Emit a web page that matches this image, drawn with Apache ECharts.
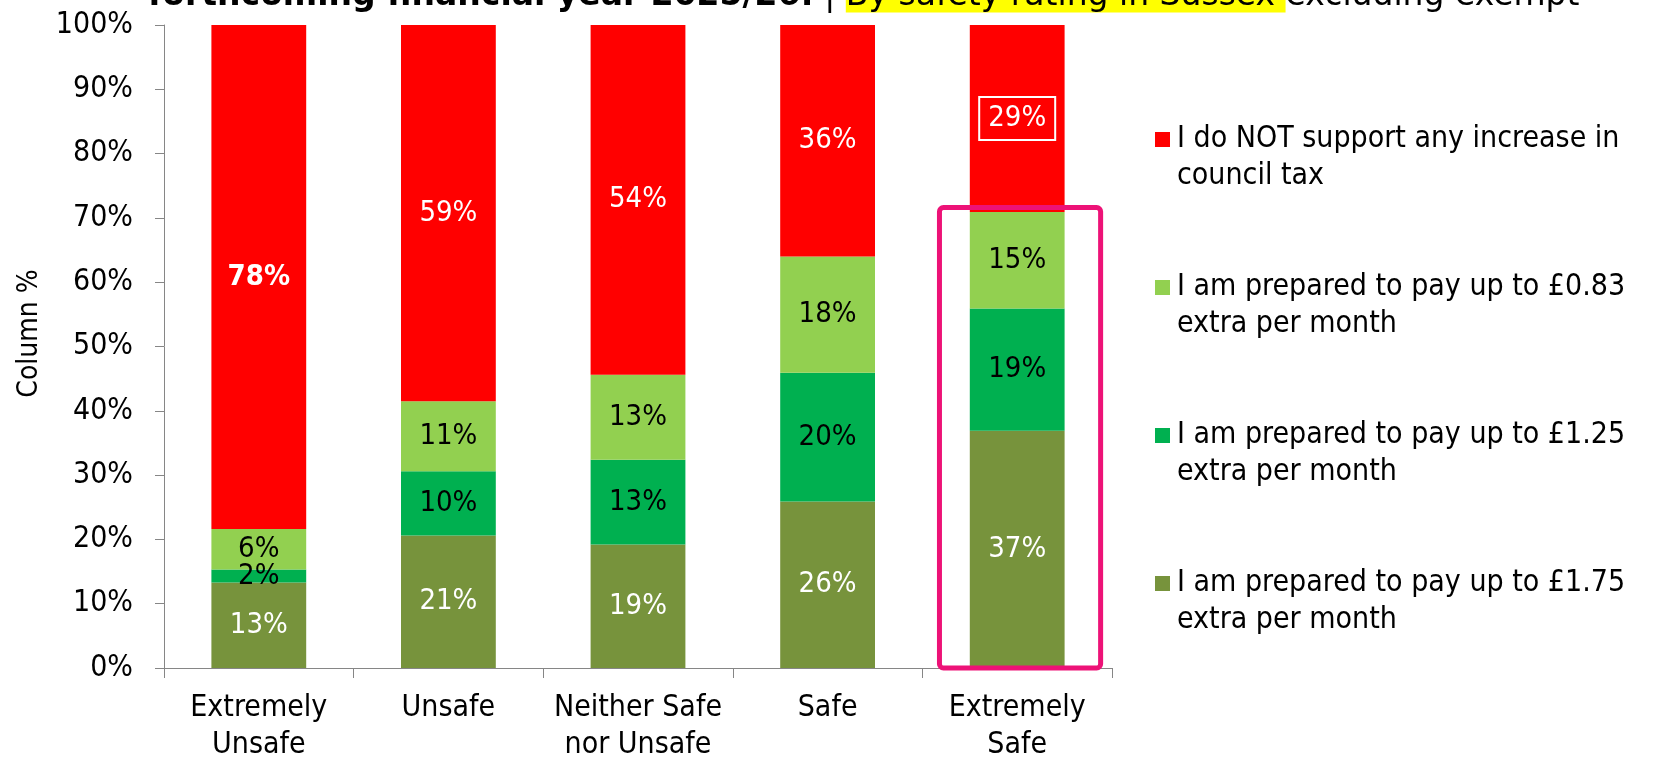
<!DOCTYPE html>
<html><head><meta charset="utf-8">
<script src="https://cdn.jsdelivr.net/npm/echarts@6/dist/echarts.min.js"></script>
<style>html,body{margin:0;padding:0;background:#fff}#c{width:1656px;height:760px}</style>
</head><body><div id="c"></div>
<script>
const categories = ['Extremely\nUnsafe', 'Unsafe', 'Neither Safe\nnor Unsafe', 'Safe', 'Extremely\nSafe'];
const legendNames = [
  'I do NOT support any increase in\ncouncil tax',
  'I am prepared to pay up to £0.83\nextra per month',
  'I am prepared to pay up to £1.25\nextra per month',
  'I am prepared to pay up to £1.75\nextra per month'
];
const notSupport = [78.4, 58.5, 54.4, 36.0, 29.1];
const pay083 = [6.3, 10.9, 13.2, 18.1, 15.0];
const pay125 = [2.0, 10.0, 13.2, 20.0, 19.0];
const pay175 = [13.3, 20.6, 19.2, 25.9, 36.9];
const highlightCategory = 'Extremely\nSafe';

const FONT = "'DejaVu Sans Condensed', 'DejaVu Sans', sans-serif";
const TFONT = "'DejaVu Sans', sans-serif";
const colors = ['#FF0000', '#92D050', '#00B050', '#77933C'];
const fmt = p => Math.round(p.value) + '%';

function mkSeries(name, data, color, labelColor, overrides) {
  return {
    name: name, type: 'bar', stack: 'all', barWidth: '50%',
    itemStyle: { color: color },
    label: { show: true, position: 'inside', color: labelColor, fontFamily: FONT, fontSize: 29, formatter: fmt },
    data: data.map((v, i) => (overrides && overrides[i]) ? { value: v, label: overrides[i] } : v)
  };
}

const chart = echarts.init(document.getElementById('c'), null, { renderer: 'canvas' });
chart.setOption({
  animation: false,
  backgroundColor: '#fff',
  grid: { left: 164, right: 544, top: 25, bottom: 92, outerBoundsMode: 'none', containLabel: false },
  graphic: [{
    type: 'text', x: 148, y: -4,
    style: {
      text: '{b|forthcoming financial year 2025/26:}{n| | }{h|By safety rating in Sussex }{n|excluding exempt}',
      verticalAlign: 'middle',
      rich: {
        b: { fontFamily: TFONT, fontSize: 33, fontWeight: 'bold', fill: '#000', lineHeight: 30 },
        n: { fontFamily: TFONT, fontSize: 33, fill: '#000', lineHeight: 30 },
        h: { fontFamily: TFONT, fontSize: 33, fill: '#000', backgroundColor: '#FFFF00', lineHeight: 30 }
      }
    }
  }],
  legend: {
    orient: 'vertical', left: 1150, top: 79, itemWidth: 15, itemHeight: 15, itemGap: 37,
    icon: 'rect',
    data: legendNames,
    formatter: name => '\n' + name,
    textStyle: { fontFamily: FONT, fontSize: 30, color: '#000', lineHeight: 37, padding: [0, 0, 0, 2] }
  },
  xAxis: {
    type: 'category', data: categories,
    axisLine: { lineStyle: { color: '#868686', width: 1 } },
    axisTick: { show: true, length: 10, lineStyle: { color: '#868686' } },
    axisLabel: { color: '#000', fontFamily: FONT, fontSize: 30, lineHeight: 37, margin: 22, interval: 0 }
  },
  yAxis: {
    type: 'value', min: 0, max: 100, interval: 10,
    name: 'Column %', nameLocation: 'middle', nameGap: 120,
    nameTextStyle: { color: '#000', fontFamily: FONT, fontSize: 28, padding: [0, 0, 0, 26] },
    axisLine: { show: true, lineStyle: { color: '#868686', width: 1 } },
    axisTick: { show: true, length: 9, lineStyle: { color: '#868686' } },
    splitLine: { show: false },
    axisLabel: { color: '#000', fontFamily: FONT, fontSize: 30, margin: 31, formatter: '{value}%' }
  },
  series: [
    mkSeries(legendNames[3], pay175, colors[3], '#fff'),
    mkSeries(legendNames[2], pay125, colors[2], '#000'),
    mkSeries(legendNames[1], pay083, colors[1], '#000'),
    mkSeries(legendNames[0], notSupport, colors[0], '#fff', {
      0: { fontWeight: 'bold' },
      4: { borderColor: '#fff', borderWidth: 2, padding: [8, 9, 6, 9] }
    })
  ]
});

// highlight box around the highlighted category
const cx = chart.convertToPixel({ xAxisIndex: 0 }, highlightCategory);
const c0 = chart.convertToPixel({ xAxisIndex: 0 }, categories[0]);
const c1 = chart.convertToPixel({ xAxisIndex: 0 }, categories[1]);
const band = c1 - c0;
const yTop = chart.convertToPixel({ yAxisIndex: 0 }, 71.6);
const yBot = chart.convertToPixel({ yAxisIndex: 0 }, 0);
chart.setOption({
  graphic: [{}, {
    type: 'rect', z: 100,
    shape: { x: cx - band * 0.41, y: yTop, width: band * 0.85, height: yBot - yTop, r: 4 },
    style: { fill: 'none', stroke: '#ED1277', lineWidth: 5 }
  }]
});
</script></body></html>
